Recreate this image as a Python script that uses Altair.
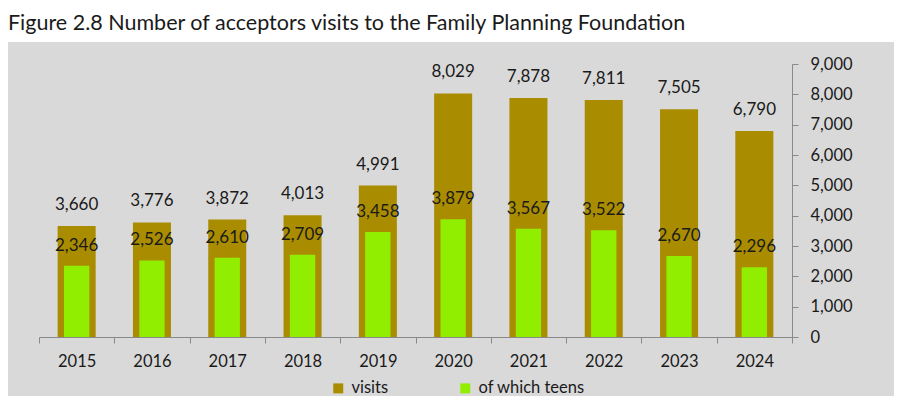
import altair as alt
import pandas as pd

years = ["2015", "2016", "2017", "2018", "2019", "2020", "2021", "2022", "2023", "2024"]
visits = [3660, 3776, 3872, 4013, 4991, 8029, 7878, 7811, 7505, 6790]
teens = [2346, 2526, 2610, 2709, 3458, 3879, 3567, 3522, 2670, 2296]
series_names = ["visits", "of which teens"]
series_colors = ["#aa8c00", "#92ee00"]
y_ticks = [0, 1000, 2000, 3000, 4000, 5000, 6000, 7000, 8000, 9000]
title_text = "Figure 2.8 Number of acceptors visits to the Family Planning Foundation"

df = pd.DataFrame({
    "year": years + years,
    "series": [series_names[0]] * len(years) + [series_names[1]] * len(years),
    "value": visits + teens,
})

FONT = "Lato"
TXT = "#1a1a1a"
AX = "#898989"
W, H = 753, 273
PL, PT, PR, PB = 31, 56, 102, 59

x_enc = alt.X(
    "year:N", sort=years,
    scale=alt.Scale(paddingInner=0, paddingOuter=0),
    axis=alt.Axis(title=None, labelAngle=0, tickBand="extent", domainColor=AX,
                  tickColor=AX, tickSize=6, labelFontSize=16.5, labelFont=FONT,
                  labelColor=TXT, labelPadding=10, zindex=1),
)
y_enc = alt.Y("value:Q", scale=alt.Scale(domain=[0, 9000], nice=False),
              axis=alt.Axis(title=None, orient="right", values=y_ticks, format=",.0f",
                            formatType="number", grid=False,
                            domainColor=AX, tickColor=AX, tickSize=6, labelPadding=12,
                            labelFontSize=16.5, labelFont=FONT, labelColor=TXT, zindex=1))
color_enc = alt.Color(
    "series:N",
    scale=alt.Scale(domain=series_names, range=series_colors),
    legend=alt.Legend(title=None, orient="none", legendX=291, legendY=316,
                      direction="horizontal", symbolType="square", symbolSize=100,
                      symbolStrokeWidth=0, labelFontSize=16.5, labelFont=FONT,
                      labelColor=TXT, columnPadding=68, labelOffset=5, zindex=1),
)

base = alt.Chart(df)
vis = base.transform_filter(alt.datum.series == series_names[0])
tee = base.transform_filter(alt.datum.series == series_names[1])

plot_bg = alt.Chart(pd.DataFrame({"k": [0]})).mark_rect(color="#d9d9d9", clip=False).encode(
    x=alt.value(-PL), x2=alt.value(W + PR), y=alt.value(-22), y2=alt.value(H + PB)
)

bars_v = vis.mark_bar(width=alt.RelativeBandSize(0.505)).encode(x=x_enc, y=y_enc, color=color_enc)
bars_t = tee.mark_bar(width=alt.RelativeBandSize(0.336)).encode(x=x_enc, y=y_enc, color=color_enc)
text_v = vis.mark_text(dy=-21, fontSize=17, font=FONT, color=TXT, baseline="middle").encode(
    x=x_enc, y=y_enc, text=alt.Text("value:Q", format=","))
text_t = tee.mark_text(dy=-20, fontSize=17, font=FONT, color=TXT, baseline="middle").encode(
    x=x_enc, y=y_enc, text=alt.Text("value:Q", format=","))

chart = alt.layer(plot_bg, bars_v, bars_t, text_v, text_t).properties(
    width=W, height=H,
    autosize=alt.AutoSizeParams(type="none"),
    padding={"left": PL, "top": PT, "right": PR, "bottom": PB},
    background="white",
    title=alt.TitleParams(title_text, anchor="start", frame="group", dx=-31,
                          fontSize=21.5, font=FONT, fontWeight="normal", color=TXT,
                          offset=8, zindex=1),
).configure_view(stroke=None)

chart.save("out.html", embed_options={"renderer": "svg", "actions": False})
